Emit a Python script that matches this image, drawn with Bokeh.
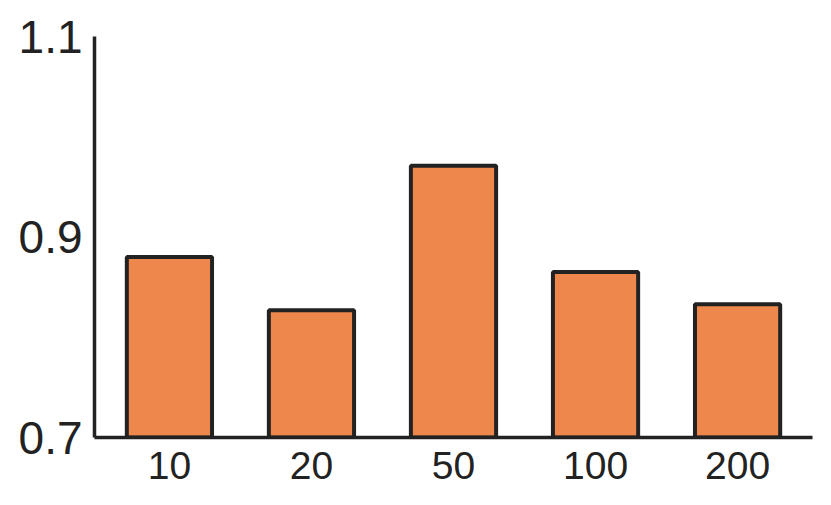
from bokeh.plotting import figure
from bokeh.models import FactorRange, Range1d, FixedTicker
from bokeh.embed import file_html
from bokeh.resources import INLINE

categories = ["10", "20", "50", "100", "200"]
values = [0.880, 0.827, 0.971, 0.865, 0.833]
y_ticks = [0.7, 0.9, 1.1]

p = figure(
    width=823, height=497,
    x_range=FactorRange(factors=categories, range_padding=0.011),
    y_range=Range1d(0.7, 1.1),
    output_backend="svg", toolbar_location=None,
    min_border_left=94, min_border_right=11, min_border_top=36, min_border_bottom=60,
)
p.vbar(x=categories, top=values, bottom=0.7, width=0.6,
       fill_color="#EE874C", line_color="#222222", line_width=4)

p.outline_line_color = None
p.grid.visible = False
for ax in (p.xaxis, p.yaxis):
    ax.axis_line_width = 3.5
    ax.axis_line_color = "#222222"
    ax.major_tick_line_color = None
    ax.minor_tick_line_color = None
    ax.major_label_text_font = "Liberation Sans"
    ax.major_label_text_color = "#222222"

p.yaxis.ticker = FixedTicker(ticks=y_ticks)
p.yaxis.major_label_text_font_size = "46px"
p.yaxis.major_label_standoff = 6
p.xaxis.major_label_text_font_size = "39px"
p.xaxis.major_label_standoff = 8

open("out.html", "w").write(file_html(p, INLINE))
